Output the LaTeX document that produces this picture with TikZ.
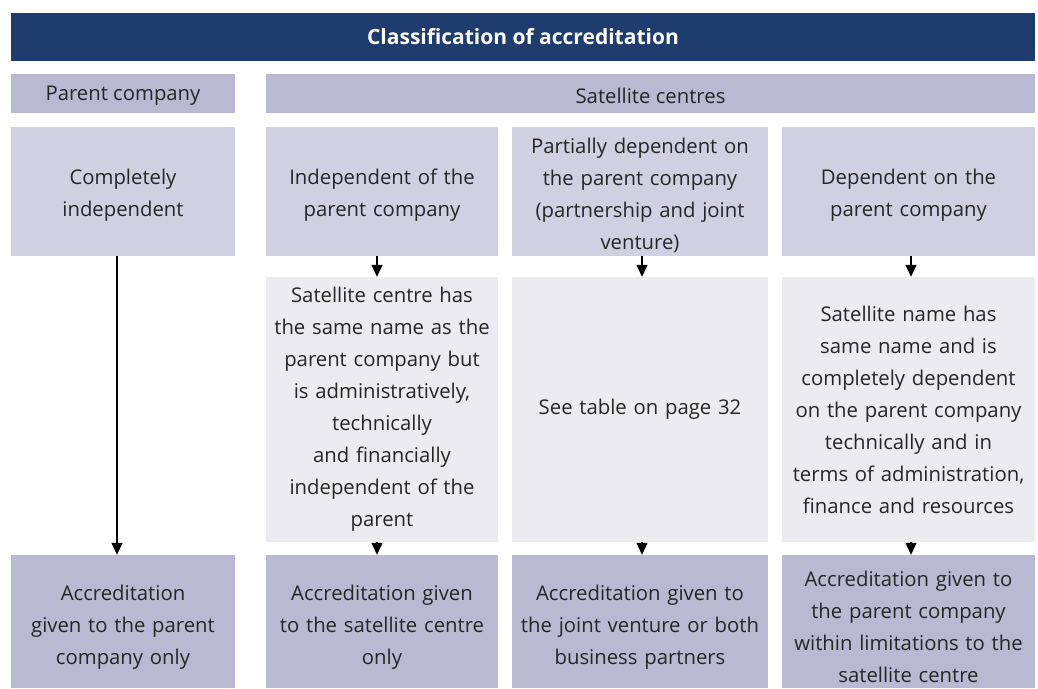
\documentclass[tikz,border=0pt]{standalone}
\usepackage{fontspec}
\setmainfont{Open Sans}
\usetikzlibrary{arrows.meta}
\definecolor{titleblue}{HTML}{1F3C6E}
\definecolor{midgray}{HTML}{B9B9D1}
\definecolor{lightgray}{HTML}{D0D0E2}
\definecolor{palegray}{HTML}{EBEBF1}
\tikzset{
  cell/.style={draw=none, inner sep=0pt, align=center, font=\fontsize{20.3}{32}\selectfont, text=black!85},
  typetxt/.style={cell, yshift=-3.5pt},
  resulttxt/.style={cell, yshift=-5.5pt},
  titlecell/.style={cell, fill=titleblue, text=white, font=\fontsize{21}{32}\selectfont\bfseries},
  headcell/.style={cell, fill=midgray},
  typecell/.style={cell, fill=lightgray},
  desccell/.style={cell, fill=palegray},
  resultcell/.style={cell, fill=midgray},
  flow/.style={draw=black, line width=1.2pt, -{Triangle[length=12pt,width=11pt]}}
}
\begin{document}
\begin{tikzpicture}[x=1pt,y=-1pt]
\useasboundingbox (0,0) rectangle (1038,688);
% title
\node[titlecell, minimum width=1024, minimum height=48] (title) at (523,37) {Classification of accreditation};
% header row
\node[headcell, minimum width=224, minimum height=39, label={[cell, yshift=-2pt]center:Parent company}] (pc) at (123,93.5) {};
\node[headcell, minimum width=769, minimum height=39, label={[cell, yshift=-2pt]center:Satellite centres}] (sc) at (650.5,93.5) {};
% type row
\node[typecell, minimum width=224, minimum height=129, label={[typetxt, text width=222]center:{Completely\\independent}}] (t1) at (123,191.5) {};
\node[typecell, minimum width=232, minimum height=129, label={[typetxt, text width=230]center:{Independent of the\\parent company}}] (t2) at (382,191.5) {};
\node[typecell, minimum width=256, minimum height=129, label={[typetxt, text width=254]center:{Partially dependent on\\the parent company\\(partnership and joint\\venture)}}] (t3) at (640,191.5) {};
\node[typecell, minimum width=253, minimum height=129, label={[typetxt, text width=251]center:{Dependent on the\\parent company}}] (t4) at (908.5,191.5) {};
% description row
\node[desccell, minimum width=232, minimum height=265, text width=230] (d2) at (382,409.5) {Satellite centre has\\the same name as the\\parent company but\\is administratively,\\technically\\and financially\\independent of the\\parent};
\node[desccell, minimum width=256, minimum height=265, text width=254] (d3) at (640,409.5) {See table on page 32};
\node[desccell, minimum width=253, minimum height=265, text width=251] (d4) at (908.5,409.5) {Satellite name has\\same name and is\\completely dependent\\on the parent company\\technically and in\\terms of administration,\\finance and resources};
% result row
\node[resultcell, minimum width=224, minimum height=133, label={[resulttxt, text width=222]center:{Accreditation\\given to the parent\\company only}}] (r1) at (123,621.5) {};
\node[resultcell, minimum width=232, minimum height=133, label={[resulttxt, text width=230]center:{Accreditation given\\to the satellite centre\\only}}] (r2) at (382,621.5) {};
\node[resultcell, minimum width=256, minimum height=133, label={[resulttxt, text width=254]center:{Accreditation given to\\the joint venture or both\\business partners}}] (r3) at (640,621.5) {};
\node[resultcell, minimum width=253, minimum height=133, label={[resulttxt, text width=251]center:{Accreditation given to\\the parent company\\within limitations to the\\satellite centre}}] (r4) at (908.5,621.5) {};
% arrows
\draw[flow] ([xshift=-6pt]t1.south) -- ([xshift=-6pt]r1.north);
\draw[flow] ([xshift=-5pt]t2.south) -- ([xshift=-5pt]d2.north);
\draw[flow] ([xshift=-5pt]d2.south) -- ([xshift=-5pt]r2.north);
\draw[flow] ([xshift=2pt]t3.south) -- ([xshift=2pt]d3.north);
\draw[flow] ([xshift=2pt]d3.south) -- ([xshift=2pt]r3.north);
\draw[flow] ([xshift=2.5pt]t4.south) -- ([xshift=2.5pt]d4.north);
\draw[flow] ([xshift=2.5pt]d4.south) -- ([xshift=2.5pt]r4.north);
\end{tikzpicture}
\end{document}
